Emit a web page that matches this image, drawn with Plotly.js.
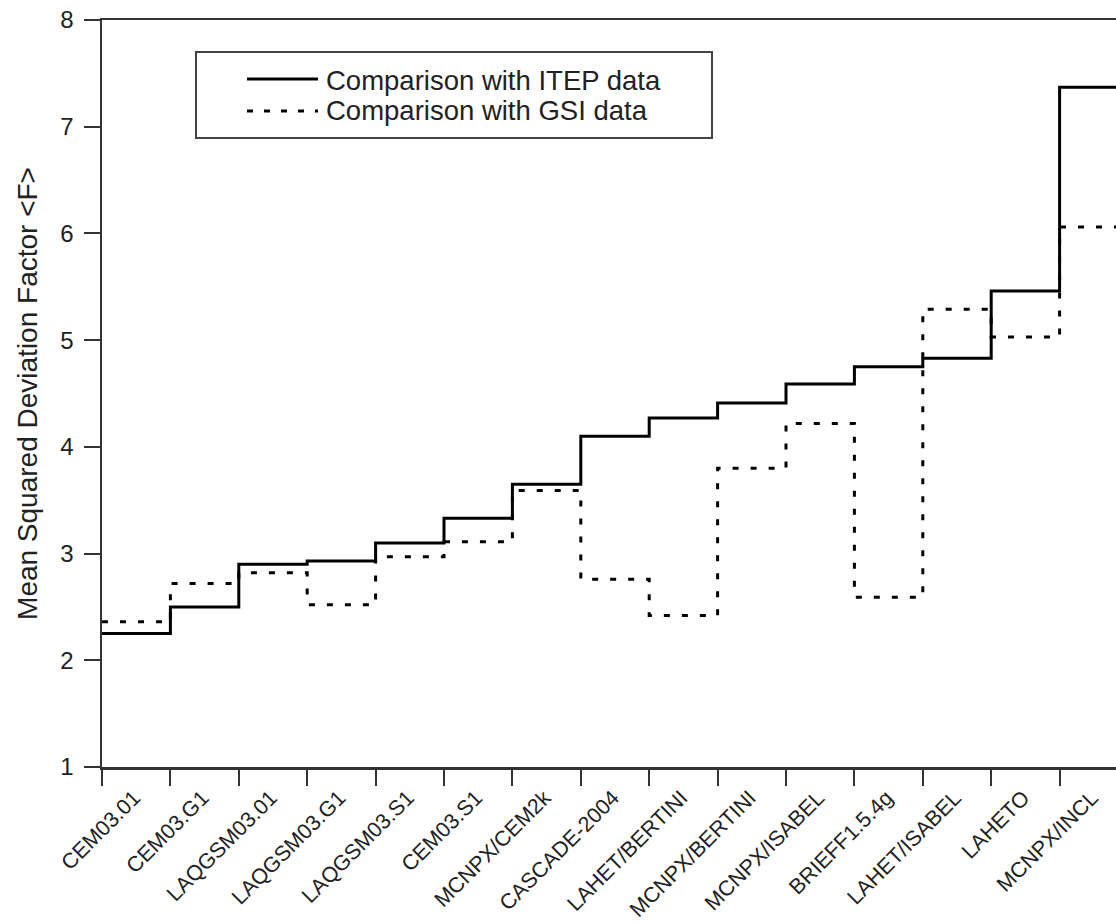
<!DOCTYPE html>
<html>
<head>
<meta charset="utf-8">
<script src="https://cdn.plot.ly/plotly-3.0.1.min.js"></script>
<style>
html,body{margin:0;padding:0;background:#fff;overflow:hidden;}
#chart{width:1140px;height:924px;}
</style>
</head>
<body>
<div id="chart"></div>
<script>
// ---- data ----
const categories = ["CEM03.01","CEM03.G1","LAQGSM03.01","LAQGSM03.G1","LAQGSM03.S1","CEM03.S1",
  "MCNPX/CEM2k","CASCADE-2004","LAHET/BERTINI","MCNPX/BERTINI","MCNPX/ISABEL","BRIEFF1.5.4g",
  "LAHET/ISABEL","LAHETO","MCNPX/INCL"];
const itepValues = [2.25,2.50,2.90,2.93,3.10,3.33,3.65,4.10,4.27,4.41,4.59,4.75,4.83,5.46,7.37];
const gsiValues  = [2.36,2.72,2.82,2.52,2.97,3.11,3.59,2.76,2.42,3.80,4.22,2.59,5.29,5.03,6.06];
const yTicks = [1,2,3,4,5,6,7,8];
const seriesNames = ["Comparison with ITEP data","Comparison with GSI data"];

// step traces: each category occupies [i, i+1)
function stepX(vals){ const xs = vals.map((v,i)=>i); xs.push(vals.length); return xs; }
function stepY(vals){ return vals.concat([vals[vals.length-1]]); }

const n = categories.length;
const idx = categories.map((c,i)=>i);
const labelPos = categories.map((c,i)=>i+0.47);

const font = {family:'"Liberation Sans", Arial, Helvetica, sans-serif', color:'#222'};
const axisColor = '#333';

const traces = [
  {x:stepX(itepValues), y:stepY(itepValues), type:'scatter', mode:'lines', name:seriesNames[0],
   line:{shape:'hv', color:'#000', width:3}, showlegend:false, hoverinfo:'skip'},
  {x:stepX(gsiValues), y:stepY(gsiValues), type:'scatter', mode:'lines', name:seriesNames[1],
   xaxis:'x2', line:{shape:'hv', color:'#000', width:3, dash:'6px,12px'}, showlegend:false, hoverinfo:'skip'}
];

// paper helpers for the hand-made legend box
const L=102, R=12, T=20, B=157, W=1140, H=924;
const pw = W-L-R, ph = H-T-B;
const px = v => (v-L)/pw;
const py = v => (H-B-v)/ph;

const layout = {
  width:W, height:H,
  margin:{l:L, r:R, t:T, b:B, pad:0},
  paper_bgcolor:'#fff', plot_bgcolor:'#fff',
  font:Object.assign({size:24}, font),
  showlegend:false,
  xaxis:{
    range:[0,n], tickvals:idx, showticklabels:false,
    ticks:'outside', ticklen:16, tickwidth:2, tickcolor:axisColor,
    showline:true, linewidth:2.5, linecolor:axisColor, mirror:true,
    showgrid:false, zeroline:false, fixedrange:true
  },
  xaxis2:{
    overlaying:'x', anchor:'y', side:'bottom', range:[0,n],
    tickvals:labelPos, ticktext:categories, tickangle:-45,
    ticks:'', showline:false, showgrid:false, zeroline:false,
    tickfont:Object.assign({size:21.5}, font), ticklabelstandoff:13, fixedrange:true
  },
  yaxis:{
    range:[1,8], tickvals:yTicks,
    ticks:'outside', ticklen:16, tickwidth:2, tickcolor:axisColor,
    showline:true, linewidth:2.5, linecolor:axisColor, mirror:true,
    showgrid:false, zeroline:false, fixedrange:true,
    tickfont:Object.assign({size:24}, font), ticklabelstandoff:5,
    title:{text:'Mean Squared Deviation Factor <F>', font:Object.assign({size:28}, font), standoff:15}
  },
  shapes:[
    {type:'rect', xref:'paper', yref:'paper', x0:px(196), x1:px(712), y0:py(138), y1:py(52),
     line:{color:'#444', width:2}, fillcolor:'#fff', layer:'above'},
    {type:'line', xref:'paper', yref:'paper', x0:px(247), x1:px(318), y0:py(79), y1:py(79),
     line:{color:'#000', width:3}},
    {type:'line', xref:'paper', yref:'paper', x0:px(247), x1:px(318), y0:py(111), y1:py(111),
     line:{color:'#000', width:3, dash:'6px,11px'}}
  ],
  annotations:[
    {xref:'paper', yref:'paper', x:px(324), y:py(80), xanchor:'left', yanchor:'middle',
     text:seriesNames[0], showarrow:false, font:Object.assign({size:27.5}, font)},
    {xref:'paper', yref:'paper', x:px(324), y:py(111), xanchor:'left', yanchor:'middle',
     text:seriesNames[1], showarrow:false, font:Object.assign({size:27.5}, font)}
  ]
};

Plotly.newPlot('chart', traces, layout, {displayModeBar:false, staticPlot:true});
</script>
</body>
</html>
